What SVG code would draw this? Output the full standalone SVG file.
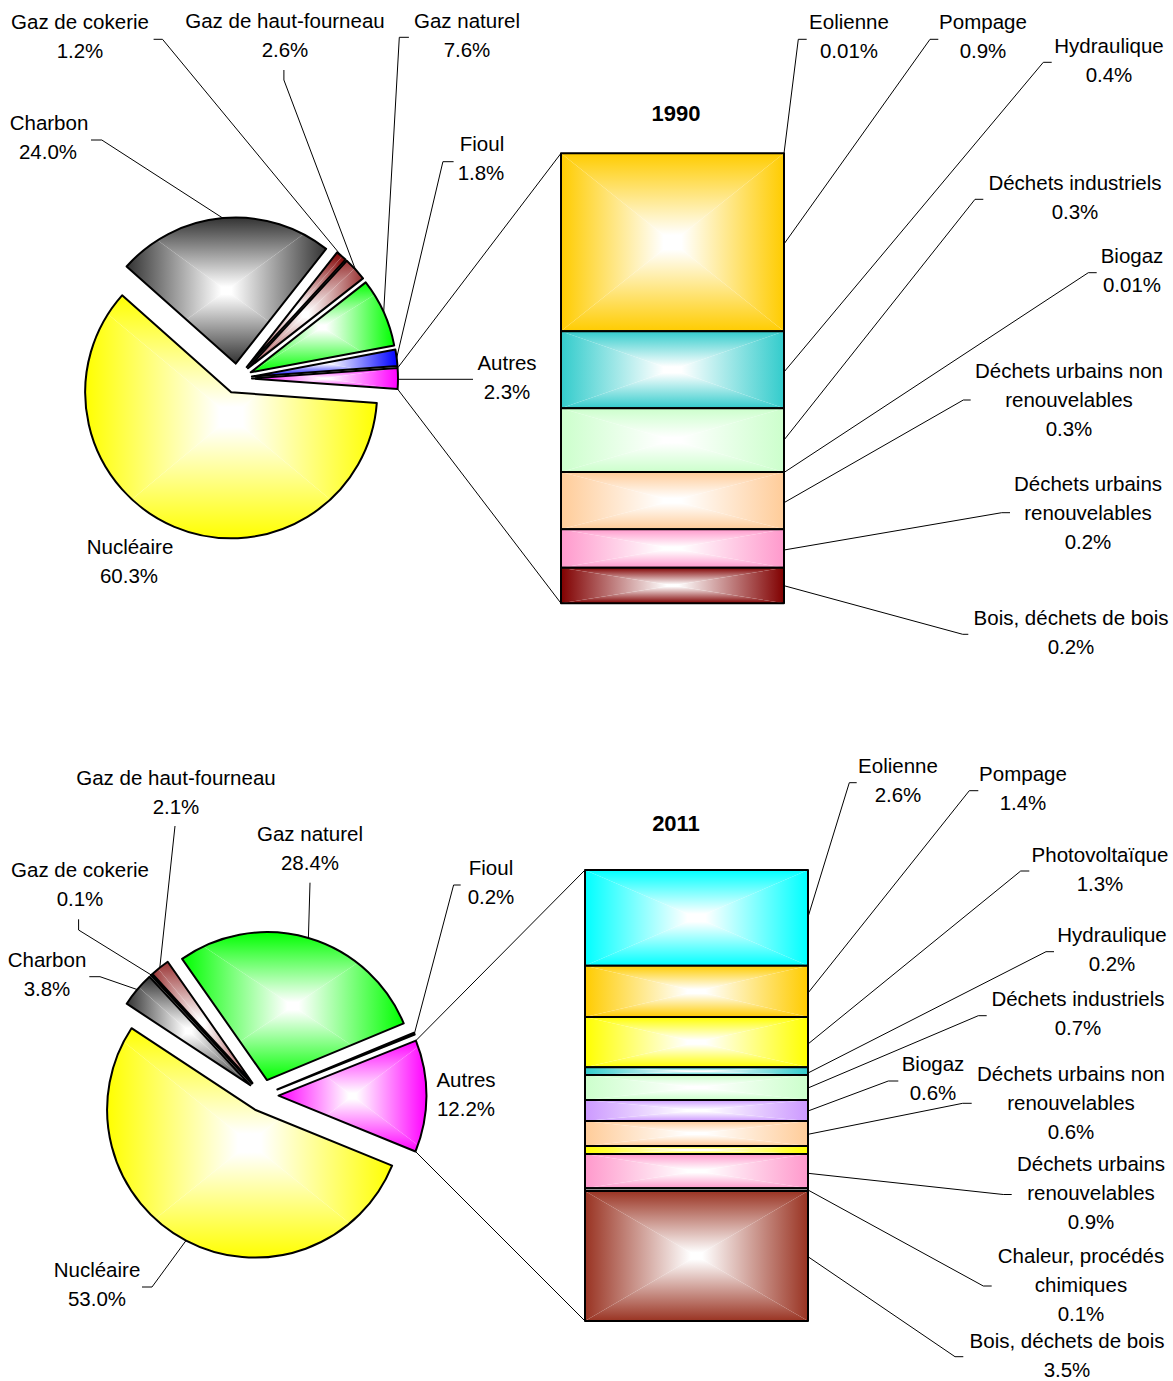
<svg xmlns="http://www.w3.org/2000/svg" width="1173" height="1381" viewBox="0 0 1173 1381">
<style>
text{font-family:"Liberation Sans",Arial,sans-serif;font-size:20.5px;fill:#000;text-anchor:middle}
.t{font-weight:bold;font-size:22px}
.o{fill:none;stroke:#000;stroke-width:2;stroke-linejoin:round}
.l{fill:none;stroke:#000;stroke-width:1}
</style>
<defs>
<linearGradient id="gY" x1="0" y1="0" x2="0" y2="1"><stop offset="0" stop-color="#FFFF00"/><stop offset="0.92" stop-color="#fff"/></linearGradient>
<linearGradient id="gGr" x1="0" y1="0" x2="0" y2="1"><stop offset="0" stop-color="#333333"/><stop offset="0.95" stop-color="#fff"/></linearGradient>
<linearGradient id="gDR" x1="0" y1="0" x2="0" y2="1"><stop offset="0" stop-color="#800000"/><stop offset="0.95" stop-color="#fff"/></linearGradient>
<linearGradient id="gBr" x1="0" y1="0" x2="0" y2="1"><stop offset="0" stop-color="#993333"/><stop offset="0.95" stop-color="#fff"/></linearGradient>
<linearGradient id="gBw" x1="0" y1="0" x2="0" y2="1"><stop offset="0" stop-color="#993322"/><stop offset="0.95" stop-color="#fff"/></linearGradient>
<linearGradient id="gG" x1="0" y1="0" x2="0" y2="1"><stop offset="0" stop-color="#00FF00"/><stop offset="0.95" stop-color="#fff"/></linearGradient>
<linearGradient id="gB" x1="0" y1="0" x2="0" y2="1"><stop offset="0" stop-color="#0000FF"/><stop offset="0.95" stop-color="#fff"/></linearGradient>
<linearGradient id="gM" x1="0" y1="0" x2="0" y2="1"><stop offset="0" stop-color="#FF00FF"/><stop offset="0.95" stop-color="#fff"/></linearGradient>
<linearGradient id="gGo" x1="0" y1="0" x2="0" y2="1"><stop offset="0" stop-color="#FFCC00"/><stop offset="0.92" stop-color="#fff"/></linearGradient>
<linearGradient id="gT" x1="0" y1="0" x2="0" y2="1"><stop offset="0" stop-color="#33CCCC"/><stop offset="0.92" stop-color="#fff"/></linearGradient>
<linearGradient id="gLG" x1="0" y1="0" x2="0" y2="1"><stop offset="0" stop-color="#CCFFCC"/><stop offset="0.92" stop-color="#fff"/></linearGradient>
<linearGradient id="gP" x1="0" y1="0" x2="0" y2="1"><stop offset="0" stop-color="#FFCC99"/><stop offset="0.92" stop-color="#fff"/></linearGradient>
<linearGradient id="gPk" x1="0" y1="0" x2="0" y2="1"><stop offset="0" stop-color="#FF99CC"/><stop offset="0.92" stop-color="#fff"/></linearGradient>
<linearGradient id="gC" x1="0" y1="0" x2="0" y2="1"><stop offset="0" stop-color="#00FFFF"/><stop offset="0.92" stop-color="#fff"/></linearGradient>
<linearGradient id="gL" x1="0" y1="0" x2="0" y2="1"><stop offset="0" stop-color="#CC99FF"/><stop offset="0.92" stop-color="#fff"/></linearGradient>

<polygon id="tri" points="0,0 1,0 0.5,0.5"/>
<symbol id="sY" viewBox="0 0 1 1" preserveAspectRatio="none"><g fill="url(#gY)"><use href="#tri"/><use href="#tri" transform="rotate(90 .5 .5)"/><use href="#tri" transform="rotate(180 .5 .5)"/><use href="#tri" transform="rotate(270 .5 .5)"/></g></symbol>
<symbol id="sGr" viewBox="0 0 1 1" preserveAspectRatio="none"><g fill="url(#gGr)"><use href="#tri"/><use href="#tri" transform="rotate(90 .5 .5)"/><use href="#tri" transform="rotate(180 .5 .5)"/><use href="#tri" transform="rotate(270 .5 .5)"/></g></symbol>
<symbol id="sDR" viewBox="0 0 1 1" preserveAspectRatio="none"><g fill="url(#gDR)"><use href="#tri"/><use href="#tri" transform="rotate(90 .5 .5)"/><use href="#tri" transform="rotate(180 .5 .5)"/><use href="#tri" transform="rotate(270 .5 .5)"/></g></symbol>
<symbol id="sBr" viewBox="0 0 1 1" preserveAspectRatio="none"><g fill="url(#gBr)"><use href="#tri"/><use href="#tri" transform="rotate(90 .5 .5)"/><use href="#tri" transform="rotate(180 .5 .5)"/><use href="#tri" transform="rotate(270 .5 .5)"/></g></symbol>
<symbol id="sBw" viewBox="0 0 1 1" preserveAspectRatio="none"><g fill="url(#gBw)"><use href="#tri"/><use href="#tri" transform="rotate(90 .5 .5)"/><use href="#tri" transform="rotate(180 .5 .5)"/><use href="#tri" transform="rotate(270 .5 .5)"/></g></symbol>
<symbol id="sG" viewBox="0 0 1 1" preserveAspectRatio="none"><g fill="url(#gG)"><use href="#tri"/><use href="#tri" transform="rotate(90 .5 .5)"/><use href="#tri" transform="rotate(180 .5 .5)"/><use href="#tri" transform="rotate(270 .5 .5)"/></g></symbol>
<symbol id="sB" viewBox="0 0 1 1" preserveAspectRatio="none"><g fill="url(#gB)"><use href="#tri"/><use href="#tri" transform="rotate(90 .5 .5)"/><use href="#tri" transform="rotate(180 .5 .5)"/><use href="#tri" transform="rotate(270 .5 .5)"/></g></symbol>
<symbol id="sM" viewBox="0 0 1 1" preserveAspectRatio="none"><g fill="url(#gM)"><use href="#tri"/><use href="#tri" transform="rotate(90 .5 .5)"/><use href="#tri" transform="rotate(180 .5 .5)"/><use href="#tri" transform="rotate(270 .5 .5)"/></g></symbol>
<symbol id="sGo" viewBox="0 0 1 1" preserveAspectRatio="none"><g fill="url(#gGo)"><use href="#tri"/><use href="#tri" transform="rotate(90 .5 .5)"/><use href="#tri" transform="rotate(180 .5 .5)"/><use href="#tri" transform="rotate(270 .5 .5)"/></g></symbol>
<symbol id="sT" viewBox="0 0 1 1" preserveAspectRatio="none"><g fill="url(#gT)"><use href="#tri"/><use href="#tri" transform="rotate(90 .5 .5)"/><use href="#tri" transform="rotate(180 .5 .5)"/><use href="#tri" transform="rotate(270 .5 .5)"/></g></symbol>
<symbol id="sLG" viewBox="0 0 1 1" preserveAspectRatio="none"><g fill="url(#gLG)"><use href="#tri"/><use href="#tri" transform="rotate(90 .5 .5)"/><use href="#tri" transform="rotate(180 .5 .5)"/><use href="#tri" transform="rotate(270 .5 .5)"/></g></symbol>
<symbol id="sP" viewBox="0 0 1 1" preserveAspectRatio="none"><g fill="url(#gP)"><use href="#tri"/><use href="#tri" transform="rotate(90 .5 .5)"/><use href="#tri" transform="rotate(180 .5 .5)"/><use href="#tri" transform="rotate(270 .5 .5)"/></g></symbol>
<symbol id="sPk" viewBox="0 0 1 1" preserveAspectRatio="none"><g fill="url(#gPk)"><use href="#tri"/><use href="#tri" transform="rotate(90 .5 .5)"/><use href="#tri" transform="rotate(180 .5 .5)"/><use href="#tri" transform="rotate(270 .5 .5)"/></g></symbol>
<symbol id="sC" viewBox="0 0 1 1" preserveAspectRatio="none"><g fill="url(#gC)"><use href="#tri"/><use href="#tri" transform="rotate(90 .5 .5)"/><use href="#tri" transform="rotate(180 .5 .5)"/><use href="#tri" transform="rotate(270 .5 .5)"/></g></symbol>
<symbol id="sL" viewBox="0 0 1 1" preserveAspectRatio="none"><g fill="url(#gL)"><use href="#tri"/><use href="#tri" transform="rotate(90 .5 .5)"/><use href="#tri" transform="rotate(180 .5 .5)"/><use href="#tri" transform="rotate(270 .5 .5)"/></g></symbol>

<path id="d90N" d="M231.2,392.3 L376.8,402.9 A146,146 0 1 1 122.1,295.3 Z"/>
<path id="d90C" d="M235.7,363.6 L126.6,266.5 A146,146 0 0 1 326.1,248.9 Z"/>
<path id="d90K" d="M246.7,367.1 L337.1,252.4 A146,146 0 0 1 345.5,259.6 Z"/>
<path id="d90H" d="M248.0,368.3 L346.8,260.8 A146,146 0 0 1 363.0,278.4 Z"/>
<path id="d90G" d="M250.7,372.3 L365.7,282.4 A146,146 0 0 1 394.2,345.4 Z"/>
<path id="d90F" d="M251.9,376.6 L395.4,349.6 A146,146 0 0 1 397.5,366.0 Z"/>
<path id="d90A" d="M252,378.5 L397.6,368.0 A146,146 0 0 1 397.6,389.1 Z"/>
<path id="d11N" d="M255.0,1109.7 L392.1,1165.6 A148,148 0 1 1 131.5,1028.2 Z"/>
<path id="d11C" d="M250.3,1085.2 L126.7,1003.7 A148,148 0 0 1 149.5,976.8 Z"/>
<path id="d11K" d="M251.7,1083.7 L150.9,975.3 A148,148 0 0 1 151.6,974.7 Z"/>
<path id="d11H" d="M252.5,1083.0 L152.4,974.0 A148,148 0 0 1 167.7,961.8 Z"/>
<path id="d11G" d="M267.0,1080.1 L182.1,958.9 A148,148 0 0 1 403.7,1023.4 Z"/>
<path id="d11F" d="M277.3,1089.5 L414.0,1032.7 A148,148 0 0 1 414.7,1034.5 Z"/>
<path id="d11A" d="M278.5,1095.6 L415.9,1040.6 A148,148 0 0 1 415.5,1151.5 Z"/>
<clipPath id="c90N"><use href="#d90N"/></clipPath>
<clipPath id="c90C"><use href="#d90C"/></clipPath>
<clipPath id="c90K"><use href="#d90K"/></clipPath>
<clipPath id="c90H"><use href="#d90H"/></clipPath>
<clipPath id="c90G"><use href="#d90G"/></clipPath>
<clipPath id="c90F"><use href="#d90F"/></clipPath>
<clipPath id="c90A"><use href="#d90A"/></clipPath>
<clipPath id="c11N"><use href="#d11N"/></clipPath>
<clipPath id="c11C"><use href="#d11C"/></clipPath>
<clipPath id="c11K"><use href="#d11K"/></clipPath>
<clipPath id="c11H"><use href="#d11H"/></clipPath>
<clipPath id="c11G"><use href="#d11G"/></clipPath>
<clipPath id="c11F"><use href="#d11F"/></clipPath>
<clipPath id="c11A"><use href="#d11A"/></clipPath>
</defs>
<rect width="1173" height="1381" fill="#fff"/>

<g id="connectors">
<polyline class="l" points="91,140 101.8,140 222.8,218.1"/>
<polyline class="l" points="153.6,39.3 162.5,39.3 341.4,255.9"/>
<polyline class="l" points="283.9,70 283.9,80 355.3,269.2"/>
<polyline class="l" points="408.9,37.3 399.3,37.3 383.7,312.2"/>
<polyline class="l" points="453.6,161.7 442.9,161.7 396.7,357.8"/>
<polyline class="l" points="398,379.3 473,379.3"/>
<polyline class="l" points="397.6,368 561,153.3"/>
<polyline class="l" points="397.6,389.1 561,603.3"/>
<polyline class="l" points="806.7,39.3 798.3,39.3 784,153.3"/>
<polyline class="l" points="938.3,39.3 930,39.3 784,244"/>
<polyline class="l" points="1051.7,62.3 1043.3,62.3 784,372"/>
<polyline class="l" points="983.3,199.3 975,199.3 784,440"/>
<polyline class="l" points="1096.7,272.7 1088.3,272.7 784,472.5"/>
<polyline class="l" points="970.7,400 963.3,400 784,502.7"/>
<polyline class="l" points="1010,512.7 1001.7,512.7 784,550"/>
<polyline class="l" points="968.3,634.3 962.7,634.3 784,585.7"/>

<polyline class="l" points="175,826 159.8,967.6"/>
<polyline class="l" points="310,882.7 308.4,938"/>
<polyline class="l" points="78.6,919.3 78.6,930 151.3,975"/>
<polyline class="l" points="89.3,976.7 100,976.7 137.3,989.6"/>
<polyline class="l" points="460.7,885 453.6,885 414.4,1033.6"/>
<polyline class="l" points="142,1287 152,1287 186,1240.6"/>
<polyline class="l" points="415.9,1040.6 585,870"/>
<polyline class="l" points="415.5,1151.5 585,1321"/>
<polyline class="l" points="856.7,782.7 849.3,782.7 808,917"/>
<polyline class="l" points="978.3,790.7 969.3,790.7 808,993"/>
<polyline class="l" points="1029.3,871 1020.7,871 808,1044"/>
<polyline class="l" points="1054,951.7 1046,951.7 808,1073"/>
<polyline class="l" points="986.7,1015.7 978.3,1015.7 808,1088"/>
<polyline class="l" points="898.3,1081 888.3,1081 808,1111"/>
<polyline class="l" points="971.7,1103.3 962.7,1103.3 808,1134.3"/>
<polyline class="l" points="1011.7,1194.5 1003.3,1194.5 808,1173.3"/>
<polyline class="l" points="991.7,1286 983.3,1286 808,1190"/>
<polyline class="l" points="963.3,1356.7 955,1356.7 808,1256.7"/>
</g>

<!-- 1990 pie -->
<g id="pie1990-nucleaire"><g clip-path="url(#c90N)"><use href="#sY" x="85.2" y="295.3" width="291.6" height="243"/></g><use href="#d90N" class="o"/></g>
<g id="pie1990-charbon"><g clip-path="url(#c90C)"><use href="#sGr" x="126.6" y="217.6" width="199.5" height="146"/></g><use href="#d90C" class="o"/></g>
<g id="pie1990-cokerie"><g clip-path="url(#c90K)"><use href="#sDR" x="246.7" y="252.4" width="98.8" height="114.7"/></g><use href="#d90K" class="o"/></g>
<g id="pie1990-hautfourneau"><g clip-path="url(#c90H)"><use href="#sBr" x="248" y="260.8" width="115" height="107.5"/></g><use href="#d90H" class="o"/></g>
<g id="pie1990-gaznaturel"><g clip-path="url(#c90G)"><use href="#sG" x="250.7" y="282.4" width="143.5" height="89.9"/></g><use href="#d90G" class="o"/></g>
<g id="pie1990-fioul"><g clip-path="url(#c90F)"><use href="#sB" x="251.9" y="349.6" width="145.6" height="27"/></g><use href="#d90F" class="o"/></g>
<g id="pie1990-autres"><g clip-path="url(#c90A)"><use href="#sM" x="252" y="368" width="146" height="21.1"/></g><use href="#d90A" class="o"/></g>

<!-- 1990 bar -->
<g id="bar1990-pompage"><use href="#sGo" x="561" y="153.3" width="223" height="178"/><rect class="o" x="561" y="153.3" width="223" height="178"/></g>
<g id="bar1990-hydraulique"><use href="#sT" x="561" y="331.3" width="223" height="77"/><rect class="o" x="561" y="331.3" width="223" height="77"/></g>
<g id="bar1990-dechets-industriels"><use href="#sLG" x="561" y="408.3" width="223" height="63.7"/><rect class="o" x="561" y="408.3" width="223" height="63.7"/></g>
<g id="bar1990-dunr"><use href="#sP" x="561" y="472" width="223" height="57.3"/><rect class="o" x="561" y="472" width="223" height="57.3"/></g>
<g id="bar1990-dur"><use href="#sPk" x="561" y="529.3" width="223" height="38.4"/><rect class="o" x="561" y="529.3" width="223" height="38.4"/></g>
<g id="bar1990-bois"><use href="#sDR" x="561" y="567.7" width="223" height="35.6"/><rect class="o" x="561" y="567.7" width="223" height="35.6"/></g>

<!-- 2011 pie -->
<g id="pie2011-nucleaire"><g clip-path="url(#c11N)"><use href="#sY" x="107" y="1028.2" width="285.1" height="229.5"/></g><use href="#d11N" class="o"/></g>
<g id="pie2011-charbon"><g clip-path="url(#c11C)"><use href="#sGr" x="126.7" y="976.8" width="123.6" height="108.4"/></g><use href="#d11C" class="o"/></g>
<g id="pie2011-cokerie"><g clip-path="url(#c11K)"><use href="#sDR" x="150.9" y="974.7" width="100.8" height="109"/></g><use href="#d11K" class="o"/></g>
<g id="pie2011-hautfourneau"><g clip-path="url(#c11H)"><use href="#sBr" x="152.4" y="961.8" width="100.1" height="121.2"/></g><use href="#d11H" class="o"/></g>
<g id="pie2011-gaznaturel"><g clip-path="url(#c11G)"><use href="#sG" x="182.1" y="932.1" width="221.6" height="148"/></g><use href="#d11G" class="o"/></g>
<g id="pie2011-fioul"><g clip-path="url(#c11F)"><use href="#sB" x="277.3" y="1032.7" width="137.4" height="56.8"/></g><use href="#d11F" class="o"/></g>
<g id="pie2011-autres"><g clip-path="url(#c11A)"><use href="#sM" x="278.5" y="1040.6" width="148" height="110.9"/></g><use href="#d11A" class="o"/></g>

<!-- 2011 bar -->
<g id="bar2011-eolienne"><use href="#sC" x="585" y="870" width="223" height="95.7"/><rect class="o" x="585" y="870" width="223" height="95.7"/></g>
<g id="bar2011-pompage"><use href="#sGo" x="585" y="965.7" width="223" height="51.3"/><rect class="o" x="585" y="965.7" width="223" height="51.3"/></g>
<g id="bar2011-photovoltaique"><use href="#sY" x="585" y="1017" width="223" height="50.3"/><rect class="o" x="585" y="1017" width="223" height="50.3"/></g>
<g id="bar2011-hydraulique"><use href="#sT" x="585" y="1067.3" width="223" height="7.7"/><rect class="o" x="585" y="1067.3" width="223" height="7.7"/></g>
<g id="bar2011-dechets-industriels"><use href="#sLG" x="585" y="1075" width="223" height="25"/><rect class="o" x="585" y="1075" width="223" height="25"/></g>
<g id="bar2011-biogaz"><use href="#sL" x="585" y="1100" width="223" height="21"/><rect class="o" x="585" y="1100" width="223" height="21"/></g>
<g id="bar2011-dunr"><use href="#sP" x="585" y="1121" width="223" height="25"/><rect class="o" x="585" y="1121" width="223" height="25"/></g>
<g id="bar2011-autre"><use href="#sY" x="585" y="1146" width="223" height="8"/><rect class="o" x="585" y="1146" width="223" height="8"/></g>
<g id="bar2011-dur"><use href="#sPk" x="585" y="1154" width="223" height="34.3"/><rect class="o" x="585" y="1154" width="223" height="34.3"/></g>
<g id="bar2011-chaleur"><rect class="o" x="585" y="1188.3" width="223" height="2.7" fill="#000"/></g>
<g id="bar2011-bois"><use href="#sBw" x="585" y="1191" width="223" height="130"/><rect class="o" x="585" y="1191" width="223" height="130"/></g>

<g id="labels1990">
<text class="t" x="676" y="121">1990</text>
<text x="80" y="29.3">Gaz de cokerie</text><text x="80" y="58.3">1.2%</text>
<text x="285" y="28.3">Gaz de haut-fourneau</text><text x="285" y="57.3">2.6%</text>
<text x="467" y="28.3">Gaz naturel</text><text x="467" y="57.3">7.6%</text>
<text x="49" y="130.3">Charbon</text><text x="48" y="159.3">24.0%</text>
<text x="482" y="151.3">Fioul</text><text x="481" y="180.3">1.8%</text>
<text x="507" y="370.3">Autres</text><text x="507" y="399.3">2.3%</text>
<text x="130" y="554.3">Nucléaire</text><text x="129" y="583.3">60.3%</text>
<text x="849" y="29.3">Eolienne</text><text x="849" y="58.3">0.01%</text>
<text x="983" y="29.3">Pompage</text><text x="983" y="58.3">0.9%</text>
<text x="1109" y="53.3">Hydraulique</text><text x="1109" y="82.3">0.4%</text>
<text x="1075" y="190.3">Déchets industriels</text><text x="1075" y="219.3">0.3%</text>
<text x="1132" y="263.3">Biogaz</text><text x="1132" y="292.3">0.01%</text>
<text x="1069" y="378.3">Déchets urbains non</text><text x="1069" y="407.3">renouvelables</text><text x="1069" y="436.3">0.3%</text>
<text x="1088" y="491.3">Déchets urbains</text><text x="1088" y="520.3">renouvelables</text><text x="1088" y="549.3">0.2%</text>
<text x="1071" y="625.3">Bois, déchets de bois</text><text x="1071" y="654.3">0.2%</text>
</g>
<g id="labels2011">
<text class="t" x="676" y="831">2011</text>
<text x="176" y="785">Gaz de haut-fourneau</text><text x="176" y="814">2.1%</text>
<text x="310" y="841">Gaz naturel</text><text x="310" y="870">28.4%</text>
<text x="491" y="875">Fioul</text><text x="491" y="904">0.2%</text>
<text x="80" y="877">Gaz de cokerie</text><text x="80" y="906">0.1%</text>
<text x="47" y="967">Charbon</text><text x="47" y="996">3.8%</text>
<text x="466" y="1087">Autres</text><text x="466" y="1116">12.2%</text>
<text x="97" y="1277">Nucléaire</text><text x="97" y="1306">53.0%</text>
<text x="898" y="773">Eolienne</text><text x="898" y="802">2.6%</text>
<text x="1023" y="781">Pompage</text><text x="1023" y="810">1.4%</text>
<text x="1100" y="862">Photovoltaïque</text><text x="1100" y="891">1.3%</text>
<text x="1112" y="942">Hydraulique</text><text x="1112" y="971">0.2%</text>
<text x="1078" y="1006">Déchets industriels</text><text x="1078" y="1035">0.7%</text>
<text x="933" y="1071">Biogaz</text><text x="933" y="1100">0.6%</text>
<text x="1071" y="1081">Déchets urbains non</text><text x="1071" y="1110">renouvelables</text><text x="1071" y="1139">0.6%</text>
<text x="1091" y="1171">Déchets urbains</text><text x="1091" y="1200">renouvelables</text><text x="1091" y="1229">0.9%</text>
<text x="1081" y="1263">Chaleur, procédés</text><text x="1081" y="1292">chimiques</text><text x="1081" y="1321">0.1%</text>
<text x="1067" y="1348">Bois, déchets de bois</text><text x="1067" y="1377">3.5%</text>
</g>
</svg>
